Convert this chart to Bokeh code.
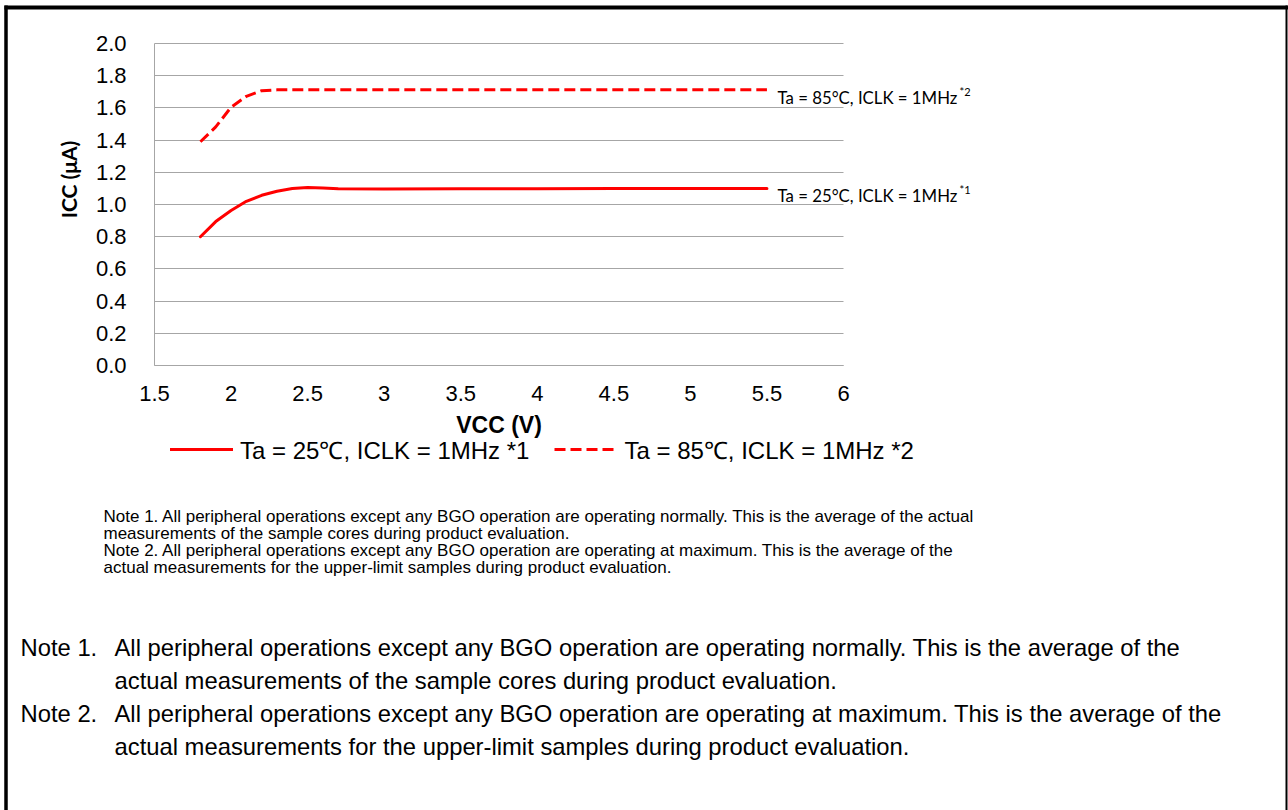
import math
from bokeh.plotting import figure
from bokeh.models import (Range1d, FixedTicker, Label, Legend, LegendItem, Arrow,
                          NumeralTickFormatter, Grid)
from bokeh.embed import file_html
from bokeh.resources import INLINE

# ---------------- data ----------------
vcc_25 = [1.8, 1.9, 2.0, 2.1, 2.2, 2.3, 2.4, 2.5, 2.6, 2.7, 3.0, 3.5, 4.0, 4.5, 5.0, 5.5]
icc_25 = [0.80, 0.894, 0.963, 1.020, 1.057, 1.082, 1.099, 1.106, 1.103, 1.098,
          1.097, 1.098, 1.098, 1.099, 1.100, 1.100]
vcc_85 = [1.8, 1.9, 2.0, 2.1, 2.2, 2.3, 2.5, 3.0, 3.5, 4.0, 4.5, 5.0, 5.5]
icc_85 = [1.39, 1.482, 1.604, 1.672, 1.707, 1.712, 1.712, 1.712, 1.712, 1.713, 1.713, 1.713, 1.713]

x_tick_values = [1.5, 2.0, 2.5, 3.0, 3.5, 4.0, 4.5, 5.0, 5.5, 6.0]
x_tick_labels = ["1.5", "2", "2.5", "3", "3.5", "4", "4.5", "5", "5.5", "6"]
y_tick_values = [0.0, 0.2, 0.4, 0.6, 0.8, 1.0, 1.2, 1.4, 1.6, 1.8, 2.0]
y_tick_labels = ["0.0", "0.2", "0.4", "0.6", "0.8", "1.0", "1.2", "1.4", "1.6", "1.8", "2.0"]

x_title = "VCC (V)"
y_title = "ICC (μA)"
legend_labels = ["Ta = 25℃, ICLK = 1MHz *1", "Ta = 85℃, ICLK = 1MHz *2"]
end_labels = ["Ta = 25°C, ICLK = 1MHz", "Ta = 85°C, ICLK = 1MHz"]
end_sups = ["*1", "*2"]

small_notes = [
    "Note 1. All peripheral operations except any BGO operation are operating normally. This is the average of the actual",
    "measurements of the sample cores during product evaluation.",
    "Note 2. All peripheral operations except any BGO operation are operating at maximum. This is the average of the",
    "actual measurements for the upper-limit samples during product evaluation.",
]
big_note_heads = ["Note 1.", "Note 2."]
big_note_lines = [
    ["All peripheral operations except any BGO operation are operating normally. This is the average of the",
     "actual measurements of the sample cores during product evaluation."],
    ["All peripheral operations except any BGO operation are operating at maximum. This is the average of the",
     "actual measurements for the upper-limit samples during product evaluation."],
]

# ---------------- layout ----------------
W, H = 1288, 810
FL, FR, FT, FB = 154, 843, 43, 365   # plot-area edges in canvas pixels
XMIN, XMAX, YMIN, YMAX = 1.5, 6.0, 0.0, 2.0


def dx(px):
    return XMIN + (px - FL) * (XMAX - XMIN) / (FR - FL)


def dy(py):
    return YMIN + (FB - py) * (YMAX - YMIN) / (FB - FT)


p = figure(width=W, height=H, x_range=Range1d(dx(0), dx(W)), y_range=Range1d(dy(H), dy(0)),
           output_backend="svg", toolbar_location=None, title=None,
           min_border_left=0, min_border_right=0, min_border_top=0, min_border_bottom=0)
p.outline_line_color = None
p.background_fill_color = "white"
p.border_fill_color = "white"

GRAY = "#a6a6a6"
AX_FONT = "Liberation Sans"

# x axis (fixed at y = 0)
p.xaxis.fixed_location = YMIN
p.xaxis.bounds = (XMIN, XMAX)
p.xaxis.ticker = FixedTicker(ticks=x_tick_values)
p.xaxis.formatter = NumeralTickFormatter(format="0.[0]")
p.xaxis.major_label_overrides = {v: l for v, l in zip(x_tick_values, x_tick_labels)}
p.xaxis.axis_line_color = GRAY
p.xaxis.major_tick_line_color = None
p.xaxis.minor_tick_line_color = None
p.xaxis.major_tick_out = 0
p.xaxis.major_tick_in = 0
p.xaxis.major_label_standoff = 20
p.xaxis.major_label_text_font = AX_FONT
p.xaxis.major_label_text_font_size = "22px"
p.xaxis.major_label_text_color = "black"
p.xaxis.axis_label = x_title
p.xaxis.axis_label_text_font = AX_FONT
p.xaxis.axis_label_text_font_style = "bold"
p.xaxis.axis_label_text_font_size = "23px"
p.xaxis.axis_label_text_color = "black"
p.xaxis.axis_label_standoff = 8

# y axis (fixed at x = 1.5)
p.yaxis.fixed_location = XMIN
p.yaxis.bounds = (YMIN, YMAX)
p.yaxis.ticker = FixedTicker(ticks=y_tick_values)
p.yaxis.formatter = NumeralTickFormatter(format="0.0")
p.yaxis.major_label_overrides = {v: l for v, l in zip(y_tick_values, y_tick_labels)}
p.yaxis.axis_line_color = GRAY
p.yaxis.major_tick_line_color = None
p.yaxis.minor_tick_line_color = None
p.yaxis.major_tick_out = 0
p.yaxis.major_tick_in = 0
p.yaxis.major_label_standoff = 28
p.yaxis.major_label_text_font = AX_FONT
p.yaxis.major_label_text_font_size = "22px"
p.yaxis.major_label_text_color = "black"

p.xgrid.visible = False
if "cross_bounds" in Grid.properties():
    p.ygrid.ticker = FixedTicker(ticks=y_tick_values)
    p.ygrid.bounds = (YMIN, YMAX)
    p.ygrid.cross_bounds = (XMIN, XMAX)
    p.ygrid.grid_line_color = GRAY
    p.ygrid.grid_line_width = 1
else:
    p.ygrid.visible = False
    p.segment(x0=[XMIN] * len(y_tick_values), y0=y_tick_values,
              x1=[XMAX] * len(y_tick_values), y1=y_tick_values,
              line_color=GRAY, line_width=1, level="underlay")

# series
RED = "#ff0000"
r25 = p.line(vcc_25, icc_25, line_color=RED, line_width=3, line_join="round", line_cap="round")
r85 = p.line(vcc_85, icc_85, line_color=RED, line_width=3, line_dash="11 5", line_join="round")

LEG_H = 27
legend = Legend(items=[LegendItem(label=legend_labels[0], renderers=[r25]),
                       LegendItem(label=legend_labels[1], renderers=[r85])],
                orientation="horizontal", location=(170, H - 452 - LEG_H / 2),
                padding=0, margin=0, spacing=25, glyph_width=63, glyph_height=20,
                label_standoff=7, border_line_color=None, background_fill_alpha=0,
                label_text_font=AX_FONT, label_text_font_size="24px", label_text_color="black")
p.add_layout(legend)

# y axis title
p.add_layout(Label(x=dx(67.5), y=dy(179), text=y_title, angle=math.pi / 2,
                   text_align="center", text_baseline="middle", text_font="Lato",
                   text_font_style="bold", text_font_size="21px", text_color="black"))

# end-of-line labels
for ypx, sup_y, txt, sup in [(195, 189, end_labels[0], end_sups[0]),
                             (97, 91, end_labels[1], end_sups[1])]:
    p.add_layout(Label(x=dx(777), y=dy(ypx), text=txt, text_align="left",
                       text_baseline="middle", text_font="Lato", text_font_size="16.8px",
                       text_color="black"))
    p.add_layout(Label(x=dx(959), y=dy(sup_y), text=sup, text_align="left",
                       text_baseline="middle", text_font="Lato", text_font_size="11px",
                       text_color="black"))

# small notes
for i, line in enumerate(small_notes):
    p.add_layout(Label(x=dx(103), y=dy(516 + 17 * i), text=line, text_align="left",
                       text_baseline="middle", text_font=AX_FONT, text_font_size="17px",
                       text_color="black"))

# big notes
for k, head in enumerate(big_note_heads):
    base = 647 + 66 * k
    p.add_layout(Label(x=dx(20), y=dy(base), text=head, text_align="left",
                       text_baseline="middle", text_font=AX_FONT, text_font_size="23.8px",
                       text_color="black"))
    for j, line in enumerate(big_note_lines[k]):
        p.add_layout(Label(x=dx(114), y=dy(base + 33 * j), text=line, text_align="left",
                           text_baseline="middle", text_font=AX_FONT, text_font_size="23.8px",
                           text_color="black"))

# page border
for (x0, y0, x1, y1, lw) in [(4, 7, 1288, 7, 4), (5.5, 5, 5.5, 810, 3.5),
                             (1286, 5, 1286, 810, 2)]:
    p.add_layout(Arrow(end=None, x_start=dx(x0), y_start=dy(y0), x_end=dx(x1), y_end=dy(y1),
                       line_color="black", line_width=lw))

open("out.html", "w").write(file_html(p, INLINE))
